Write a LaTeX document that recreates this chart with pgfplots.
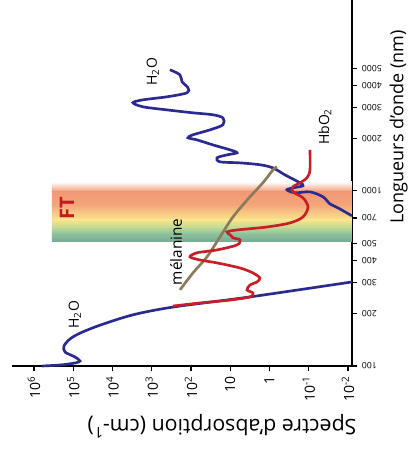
\documentclass[border=0pt]{standalone}
\usepackage{fontspec}
\setmainfont{Open Sans}
\usepackage{pgfplots}
\pgfplotsset{compat=1.18}
\definecolor{h2o}{RGB}{42,42,145}
\definecolor{hbo}{RGB}{200,30,40}
\definecolor{mel}{RGB}{138,124,88}
\definecolor{bSalA}{RGB}{242,152,116}
\definecolor{bSalB}{RGB}{244,166,122}
\definecolor{bOra}{RGB}{247,200,132}
\definecolor{bYel}{RGB}{248,228,140}
\definecolor{bLgr}{RGB}{188,216,150}
\definecolor{bGrn}{RGB}{141,194,156}
\definecolor{bTea}{RGB}{120,168,151}
\definecolor{ftred}{RGB}{196,24,30}
\begin{document}
\begin{tikzpicture}
\begin{axis}[
  scale only axis, width=255pt, height=274.5pt,
  xmode=log, ymode=log, x dir=reverse,
  xmin=0.0079, xmax=3.63e6, ymin=100, ymax=12300,
  axis x line*=bottom, axis y line*=right,
  axis line style={-, line width=1.9pt},
  every outer x axis line/.append style={-},
  every outer y axis line/.append style={-},
  tick align=outside, major tick length=4pt,
  every tick/.style={line width=0.8pt, black},
  xtick={1e6,1e5,1e4,1e3,1e2,10,1,0.1,0.01},
  xticklabels={10\textsuperscript{6},10\textsuperscript{5},10\textsuperscript{4},10\textsuperscript{3},10\textsuperscript{2},10,1,10\textsuperscript{-1},10\textsuperscript{-2}},
  xticklabel style={rotate=90, anchor=east, font=\fontsize{10.5}{11}\selectfont},
  ytick={100,200,300,400,500,700,1000,2000,3000,4000,5000},
  yticklabels={100,200,300,400,500,700,1000,2000,3000,4000,5000},
  yticklabel style={rotate=180, anchor=east, font=\fontsize{6.5}{7}\selectfont},
  minor xtick={}, minor ytick={},
  clip=false,
]
% spectral band
\shade[top color=white, bottom color=bSalA, draw=none] (axis cs:3.48e5,987) rectangle (axis cs:0.0079,1125);
\shade[top color=bSalA, bottom color=bSalB, draw=none] (axis cs:3.48e5,832) rectangle (axis cs:0.0079,988);
\shade[top color=bSalB, bottom color=bOra, draw=none] (axis cs:3.48e5,748) rectangle (axis cs:0.0079,833);
\shade[top color=bOra, bottom color=bYel, draw=none] (axis cs:3.48e5,682) rectangle (axis cs:0.0079,749);
\shade[top color=bYel, bottom color=bLgr, draw=none] (axis cs:3.48e5,615) rectangle (axis cs:0.0079,683);
\shade[top color=bLgr, bottom color=bGrn, draw=none] (axis cs:3.48e5,568) rectangle (axis cs:0.0079,616);
\shade[top color=bGrn, bottom color=bTea, draw=none] (axis cs:3.48e5,512) rectangle (axis cs:0.0079,569);

% H2O upper part
\addplot[h2o, line width=2pt, smooth] coordinates {
(343,4915) (191,4600) (169,4200) (119,3880) (126,3630) (408,3445) (1670,3310) (3010,3185)
(1670,3020) (408,2900) (88.9,2790) (27.5,2720) (15.3,2610) (15.3,2385) (32.8,2230) (88.9,2090)
(119,2010) (70.3,1955) (27.5,1830) (10.1,1715) (6.73,1650) (12.1,1605) (21.8,1545) (18.2,1465)
(5.65,1445) (1.75,1410) (0.815,1353) (0.403,1234) (0.167,1112) (0.140,1069) (0.252,1040)
(0.358,1014) (0.224,975) (0.0929,987) (0.0434,925) (0.0288,843) (0.0180,800) (0.00791,720)
};
% H2O lower part
\addplot[h2o, line width=2pt, smooth] coordinates {
(6.25e5,100) (2.18e5,101.3) (9.02e4,104) (6.73e4,106.8) (9.02e4,112.6) (1.62e5,120.2)
(1.72e5,130.1) (1.21e5,142.6) (6.73e4,154) (2.08e4,171) (3010,196) (288,217) (3.14,248) (0.00791,302)
};
% melanine
\addplot[mel, line width=2pt, smooth] coordinates {
(191,272) (88.9,340) (39.1,420) (18.2,546) (8.51,710) (3.14,925) (1.47,1112) (0.815,1318) (0.644,1372)
};
% HbO2
\addplot[hbo, line width=2pt, smooth] coordinates {
(288,220) (59.0,229) (10.1,238) (3.14,248) (2.63,261) (3.74,272) (3.14,290) (2.08,302) (1.75,318)
(2.63,340) (5.65,363) (21.8,388) (59.0,403) (106,420) (70.3,443) (21.8,460) (6.73,491) (5.65,525)
(8.51,539) (10.1,561) (12.1,583) (6.73,598) (1.16,622) (0.301,656) (0.140,710) (0.104,810)
(0.140,912) (0.252,987) (0.252,1054) (0.167,1112) (0.111,1187) (0.0929,1318) (0.0929,1715)
};

\node[rotate=90, text=ftred, font=\fontsize{15}{16}\selectfont\bfseries] at (axis cs:1.45e5,800) {FT};
\node[rotate=90, font=\fontsize{10.5}{12}\selectfont] at (axis cs:9.0e4,196) {H\textsubscript{2}O};
\node[rotate=90, font=\fontsize{10.5}{12}\selectfont] at (axis cs:929,4790) {H\textsubscript{2}O};
\node[rotate=90, font=\fontsize{10.5}{12}\selectfont] at (axis cs:0.0385,2320) {HbO\textsubscript{2}};
\node[rotate=90, font=\fontsize{11.5}{12}\selectfont] at (axis cs:241,448) {mélanine};
\node[rotate=180, font=\fontsize{16}{17}\selectfont] at (axis cs:16.2,45.4) {Spectre d'absorption (cm-\textsuperscript{1})};
\node[rotate=90, anchor=south, inner sep=1pt, font=\fontsize{13.5}{14}\selectfont] at ([xshift=43pt]axis cs:0.0079,2320) {Longueurs d'onde (nm)};
\end{axis}
\pgfresetboundingbox
\path[use as bounding box] ([shift={(-9pt,-66.75pt)}]current axis.south west) rectangle ([shift={(43.5pt,0pt)}]current axis.north east);
\end{tikzpicture}
\end{document}
